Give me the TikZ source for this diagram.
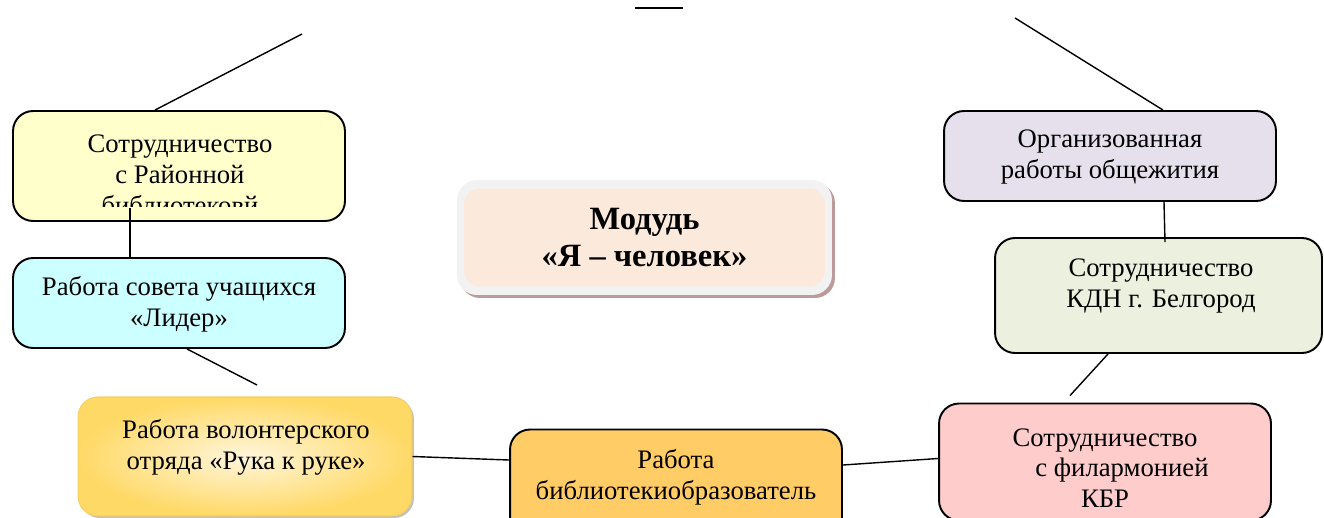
\documentclass[tikz,border=0pt]{standalone}
\usepackage{fontspec}
\setmainfont{Liberation Serif}
\usetikzlibrary{shadows}

\definecolor{libyellow}{HTML}{FFFFCC}
\definecolor{soviet}{HTML}{CCFFFF}
\definecolor{voluntlight}{HTML}{FFF6DC}
\definecolor{voluntgold}{HTML}{FFD966}
\definecolor{goldline}{HTML}{F6CE62}
\definecolor{bibliorange}{HTML}{FFCC66}
\definecolor{philpink}{HTML}{FFCCCC}
\definecolor{kdngreen}{HTML}{EBF1DE}
\definecolor{dormlilac}{HTML}{E5E0EC}
\definecolor{ringgray}{HTML}{F2F2F2}
\definecolor{peach}{HTML}{FBE9DB}
\definecolor{shadowbrown}{HTML}{BC9A9A}

\begin{document}
\begin{tikzpicture}[x=0.02cm, y=-0.02cm,
  box/.style = {draw, line width=1.1pt, rounded corners=0.4cm, minimum width=6.64cm},
  txt/.style = {align=center, font=\fontsize{15.2}{17.5}\selectfont},
  link/.style = {line width=0.8pt}]

\useasboundingbox (0,0) rectangle (1324,517);

% boxes on the left
\node[box, fill=libyellow, minimum height=2.2cm] (lib) at (179,166) {};
\begin{scope}
\clip (13,111) rectangle (345,206);
\node[txt] (lib-t) at (180,175) {Сотрудничество\\ с Районной\\ библиотековй};
\end{scope}

\node[box, fill=soviet, minimum height=1.8cm] (council) at (179,303) {};
\node[txt] (council-t) at (179,304) {Работа совета учащихся\\ «Лидер»};

\node[box, draw=goldline, line width=0.6pt, inner color=voluntlight, outer color=voluntgold,
      minimum width=6.68cm, minimum height=2.38cm,
      general shadow={fill=black!25, shadow xshift=0.04cm, shadow yshift=-0.04cm}] (volunteer) at (245,456.5) {};
\node[txt] (volunteer-t) at (246,447) {Работа волонтерского\\ отряда «Рука к руке»};

% bottom middle
\node[box, fill=bibliorange, minimum height=2.3cm] (librarian) at (676,487) {};
\node[txt] (librarian-t) at (676,477) {Работа\\ библиотекиобразователь};

% boxes on the right
\node[box, fill=philpink, minimum height=2.34cm] (phil) at (1105,462) {};
\node[txt] (phil-t) at (1105,468) {Сотрудничество\\ \hspace*{0.68cm}с филармонией\\ КБР};

\node[box, fill=kdngreen, minimum width=6.54cm, minimum height=2.3cm] (kdn) at (1158.5,295.5) {};
\node[txt] (kdn-t) at (1161,286) {Сотрудничество\\ КДН г. Белгород};

\node[box, fill=dormlilac, minimum height=1.8cm] (dorm) at (1110,156) {};
\node[txt] (dorm-t) at (1110,157) {Организованная\\ работы общежития};

% centre
\node[fill=ringgray, rounded corners=0.4cm, minimum width=7.5cm, minimum height=2.3cm,
      general shadow={fill=shadowbrown, shadow xshift=0.06cm, shadow yshift=-0.06cm}] (core) at (644.5,237.5) {};
\node[fill=peach, rounded corners=0.32cm, minimum width=7.22cm, minimum height=1.96cm,
      align=center, font=\bfseries\fontsize{18.5}{21}\selectfont] (core-in) at (core) {Модудь\\ «Я – человек»};

% free ends
\coordinate (lib-end) at (302,34);
\coordinate (council-end) at (257,385);
\coordinate (dorm-end) at (1015,18);
\coordinate (top-a) at (635,8);
\coordinate (top-b) at (683,8);

% connectors
\draw[link] ([xshift=-0.48cm]lib.north) -- (lib-end);
\draw[link] ([xshift=-0.98cm, yshift=0.28cm]lib.south) -- ([xshift=-0.98cm]council.north);
\draw[link] ([xshift=0.16cm]council.south) -- (council-end);
\draw[link] (volunteer.east) -- ([yshift=0.54cm]librarian.west);
\draw[link] ([yshift=0.44cm]librarian.east) -- ([yshift=0.07cm]phil.west);
\draw[link] ([xshift=-0.7cm, yshift=0.14cm]phil.north) -- ([xshift=-1.01cm]kdn.south);
\draw[link] ([xshift=1.08cm]dorm.south) -- ([xshift=0.13cm, yshift=-0.1cm]kdn.north);
\draw[link] ([xshift=1.06cm]dorm.north) -- (dorm-end);
\draw[link] (top-a) -- (top-b);

\end{tikzpicture}
\end{document}
